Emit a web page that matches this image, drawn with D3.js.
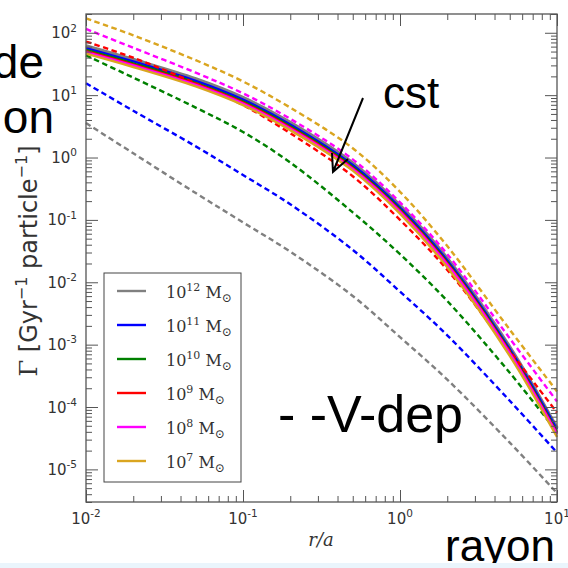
<!DOCTYPE html>
<html>
<head>
<meta charset="utf-8">
<script src="https://cdn.jsdelivr.net/npm/d3@7"></script>
<style>
  html, body { margin: 0; padding: 0; background: #fff; }
  svg { display: block; }
</style>
</head>
<body>
<script>
// Radii (r/a) at which the collision rates were sampled
const radii = [0.01, 0.02, 0.05, 0.1, 0.2, 0.5, 1, 2, 5, 10];

// Halo masses (exponent of 10, in solar masses) and their colours
const massExponents = [12, 11, 10, 9, 8, 7];
const massColors = ["#808080", "#0000ff", "#008000", "#ff0000", "#ff00ff", "#daa520"];

// Collision rate Γ [Gyr^-1 particle^-1], constant cross-section (solid)
const cst12 = [61.7, 37.2, 18.2, 9.12, 3.63, 0.813, 0.170, 0.0240, 9.12e-4, 4.57e-5];
const cst11 = [56.9, 34.7, 17.0, 8.51, 3.39, 0.759, 0.158, 0.0224, 8.51e-4, 4.37e-5];
const cst10 = [53.1, 32.4, 15.8, 7.94, 3.16, 0.708, 0.148, 0.0209, 7.94e-4, 3.98e-5];
const cst9  = [50.7, 30.9, 15.1, 7.59, 3.02, 0.676, 0.141, 0.0200, 7.59e-4, 3.80e-5];
const cst8  = [49.0, 29.9, 14.6, 7.33, 2.92, 0.653, 0.136, 0.0193, 7.33e-4, 3.67e-5];
const cst7  = [46.2, 28.2, 13.8, 6.92, 2.75, 0.617, 0.126, 0.0174, 6.61e-4, 3.31e-5];

// Collision rate, velocity-dependent cross-section (dashed)
const vdep12 = [3.57, 1.17, 0.269, 0.0912, 0.0309, 6.03e-3, 1.32e-3, 2.75e-4, 2.69e-5, 4.17e-6];
const vdep11 = [15.5, 5.62, 1.51, 0.525, 0.178, 0.0331, 7.08e-3, 1.41e-3, 1.26e-4, 1.86e-5];
const vdep10 = [43.3, 19.1, 6.31, 2.57, 0.832, 0.132, 0.0282, 5.01e-3, 3.55e-4, 3.98e-5];
const vdep9  = [72.4, 39.8, 15.5, 6.92, 2.45, 0.501, 0.100, 0.0158, 7.94e-4, 8.13e-5];
const vdep8  = [115, 57.5, 22.9, 10.7, 4.17, 0.933, 0.191, 0.0282, 1.26e-3, 1.23e-4];
const vdep7  = [170, 91.2, 36.3, 16.6, 6.31, 1.41, 0.282, 0.0380, 1.74e-3, 1.78e-4];

// Axis ticks (decade exponents)
const xTickExps = [-2, -1, 0, 1];
const yTickExps = [-5, -4, -3, -2, -1, 0, 1, 2];

const cstSeries = [cst12, cst11, cst10, cst9, cst8, cst7];
const vdepSeries = [vdep12, vdep11, vdep10, vdep9, vdep8, vdep7];

const W = 568, H = 568;
const plot = { left: 86, right: 557, top: 14, bottom: 502 };

const svg = d3.select("body").append("svg")
  .attr("width", W).attr("height", H)
  .attr("viewBox", `0 0 ${W} ${H}`);

svg.append("rect").attr("width", W).attr("height", H).attr("fill", "#fff");

const x = d3.scaleLog().domain([0.01, 10]).range([plot.left, plot.right]);
const y = d3.scaleLog().domain([3e-6, 200]).range([plot.bottom, plot.top]);

const axisColor = "#555";
const labelColor = "#333";

// Minor tick values for each log axis
function minorTicks(lo, hi) {
  const out = [];
  for (let e = lo; e < hi; e++) {
    for (let m = 2; m <= 9; m++) out.push(m * Math.pow(10, e));
  }
  return out;
}
const xMinor = minorTicks(-2, 1);
const yMinor = minorTicks(-6, 3).filter(v => v >= 3e-6 && v <= 200);
const xMajor = xTickExps.map(e => Math.pow(10, e));
const yMajor = yTickExps.map(e => Math.pow(10, e));

// Curves: each mass draws its solid (constant) and dashed (v-dependent) rate
const line = d3.line()
  .x((d, i) => x(radii[i]))
  .y(d => y(d))
  .curve(d3.curveCatmullRom.alpha(0.5));

const curves = svg.append("g").attr("class", "curves");
massExponents.forEach((m, k) => {
  curves.append("path")
    .datum(cstSeries[k])
    .attr("d", line)
    .attr("fill", "none")
    .attr("stroke", massColors[k])
    .attr("stroke-width", k === 0 ? 3.6 : 2.4)
    .attr("stroke-linejoin", "round");
  curves.append("path")
    .datum(vdepSeries[k])
    .attr("d", line)
    .attr("fill", "none")
    .attr("stroke", massColors[k])
    .attr("stroke-width", 2.4)
    .attr("stroke-dasharray", "5.5,3.5");
});

// Inward ticks on all four sides
function tickAxis(axisFn, scale, values, size, transform) {
  const g = svg.append("g")
    .attr("transform", transform)
    .call(axisFn(scale).tickValues(values).tickSize(size).tickSizeOuter(0).tickFormat(""));
  g.select(".domain").remove();
  g.selectAll(".tick line").attr("stroke", axisColor).attr("stroke-width", 1);
}
tickAxis(d3.axisBottom, x, xMajor, -12, `translate(0,${plot.bottom})`);
tickAxis(d3.axisBottom, x, xMinor, -6, `translate(0,${plot.bottom})`);
tickAxis(d3.axisTop, x, xMajor, -12, `translate(0,${plot.top})`);
tickAxis(d3.axisTop, x, xMinor, -6, `translate(0,${plot.top})`);
tickAxis(d3.axisLeft, y, yMajor, -12, `translate(${plot.left},0)`);
tickAxis(d3.axisLeft, y, yMinor, -6, `translate(${plot.left},0)`);
tickAxis(d3.axisRight, y, yMajor, -12, `translate(${plot.right},0)`);
tickAxis(d3.axisRight, y, yMinor, -6, `translate(${plot.right},0)`);

svg.append("rect")
  .attr("x", plot.left).attr("y", plot.top)
  .attr("width", plot.right - plot.left).attr("height", plot.bottom - plot.top)
  .attr("fill", "none").attr("stroke", axisColor).attr("stroke-width", 1.3);

// Power-of-ten tick label: "10" with a raised exponent
function powLabel(px, py, exp, size, anchor) {
  const t = svg.append("text")
    .attr("x", px).attr("y", py)
    .attr("text-anchor", anchor)
    .attr("fill", labelColor)
    .style("font-family", "DejaVu Sans")
    .style("font-size", size + "px");
  t.append("tspan").text("10");
  t.append("tspan")
    .attr("dy", -0.45 * size)
    .style("font-size", (size * 0.7) + "px")
    .text(exp < 0 ? "-" + (-exp) : String(exp));
}
xTickExps.forEach(e => powLabel(x(Math.pow(10, e)), 524, e, 15, "middle"));
yTickExps.forEach(e => powLabel(77, y(Math.pow(10, e)) + 5.5, e, 15, "end"));

// Axis titles
svg.append("text")
  .attr("x", 321).attr("y", 546)
  .attr("text-anchor", "middle")
  .attr("fill", labelColor)
  .style("font-family", "DejaVu Serif")
  .style("font-style", "italic")
  .style("font-size", "18px")
  .text("r/a");

const yTitle = svg.append("text")
  .attr("transform", "translate(37,261) rotate(-90)")
  .attr("text-anchor", "middle")
  .attr("fill", labelColor)
  .style("font-family", "DejaVu Sans")
  .style("font-size", "24px");
yTitle.append("tspan").style("font-family", "DejaVu Serif").text("Γ");
yTitle.append("tspan").text(" [Gyr");
yTitle.append("tspan").attr("dy", -10).style("font-size", "16px").text("−1");
yTitle.append("tspan").attr("dy", 10).text(" particle");
yTitle.append("tspan").attr("dy", -10).style("font-size", "16px").text("−1");
yTitle.append("tspan").attr("dy", 10).text("]");

// Legend
const legend = svg.append("g");
legend.append("rect")
  .attr("x", 104).attr("y", 273).attr("width", 137).attr("height", 209)
  .attr("fill", "#fff").attr("stroke", "#444").attr("stroke-width", 1);
massExponents.forEach((m, k) => {
  const ly = 291 + k * 34;
  legend.append("line")
    .attr("x1", 117).attr("x2", 146).attr("y1", ly).attr("y2", ly)
    .attr("stroke", massColors[k]).attr("stroke-width", 2.4);
  const t = legend.append("text")
    .attr("x", 166).attr("y", ly + 7)
    .attr("fill", labelColor)
    .style("font-family", "DejaVu Serif")
    .style("font-size", "16px");
  t.append("tspan").text("10");
  t.append("tspan").attr("dy", -7).style("font-size", "11px").text(String(m));
  t.append("tspan").attr("dy", 7).text(" M");
  t.append("tspan").attr("dy", 4).style("font-size", "12px").text("⊙");
});

// Slide annotations
const ann = svg.append("g")
  .attr("fill", "#000")
  .style("font-family", "Liberation Sans");
ann.append("text").attr("x", 44).attr("y", 78).attr("text-anchor", "end")
  .style("font-size", "46px").text("de");
ann.append("text").attr("x", 54).attr("y", 133).attr("text-anchor", "end")
  .style("font-size", "46px").text("on");
ann.append("text").attr("x", 383).attr("y", 108)
  .style("font-size", "44px").text("cst");
ann.append("text").attr("x", 278).attr("y", 432)
  .style("font-size", "52px").text("- -V-dep");

svg.append("rect").attr("x", 0).attr("y", 563).attr("width", W).attr("height", 5)
  .attr("fill", "#eaf5fc");
ann.append("text").attr("x", 445).attr("y", 561)
  .style("font-size", "44px").text("rayon");

// Arrow pointing at the constant cross-section curves
svg.append("path")
  .attr("d", "M363,98 L333,172 M332,153 L333,172 L348,159")
  .attr("fill", "none").attr("stroke", "#000").attr("stroke-width", 2);
</script>
</body>
</html>
